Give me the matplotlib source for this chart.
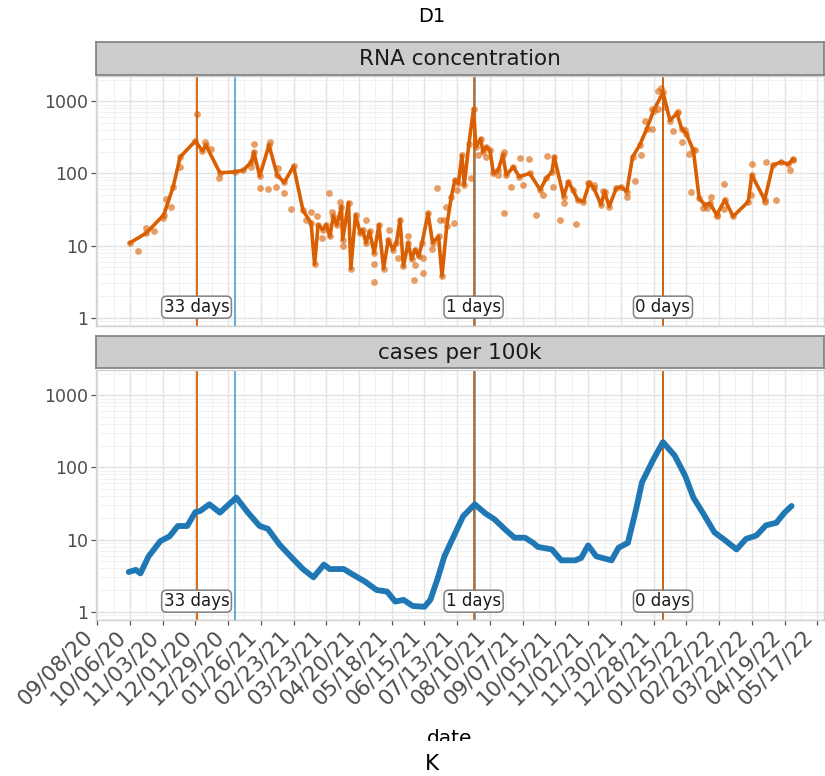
import numpy as np
import pandas as pd
import matplotlib
matplotlib.use("Agg")
import matplotlib.pyplot as plt
import matplotlib.dates as mdates
from matplotlib.ticker import FixedLocator, LogLocator, NullFormatter

# RNA concentration, connected line
rna_dates = ["2020-10-06", "2020-10-20", "2020-11-04", "2020-11-12", "2020-11-18", "2020-12-01",
             "2020-12-07", "2020-12-10", "2020-12-22", "2021-01-04", "2021-01-11", "2021-01-18",
             "2021-01-20", "2021-01-25", "2021-02-02", "2021-02-09", "2021-02-15", "2021-02-23",
             "2021-03-03", "2021-03-10", "2021-03-13", "2021-03-16", "2021-03-20", "2021-03-23",
             "2021-03-26", "2021-03-29", "2021-04-01", "2021-04-05", "2021-04-06", "2021-04-11",
             "2021-04-13", "2021-04-17", "2021-04-21", "2021-04-23", "2021-04-26", "2021-04-29",
             "2021-05-03", "2021-05-07", "2021-05-11", "2021-05-15", "2021-05-19", "2021-05-22",
             "2021-05-25", "2021-05-28", "2021-06-01", "2021-06-04", "2021-06-07", "2021-06-10",
             "2021-06-13", "2021-06-18", "2021-06-22", "2021-06-27", "2021-06-30", "2021-07-04",
             "2021-07-08", "2021-07-11", "2021-07-14", "2021-07-17", "2021-07-19", "2021-07-23",
             "2021-07-27", "2021-07-29", "2021-08-02", "2021-08-04", "2021-08-07", "2021-08-10",
             "2021-08-13", "2021-08-17", "2021-08-21", "2021-08-24", "2021-08-30", "2021-09-04",
             "2021-09-13", "2021-09-22", "2021-09-27", "2021-10-02", "2021-10-04", "2021-10-12",
             "2021-10-16", "2021-10-20", "2021-10-24", "2021-10-29", "2021-11-03", "2021-11-07",
             "2021-11-13", "2021-11-16", "2021-11-20", "2021-11-26", "2021-11-30", "2021-12-05",
             "2021-12-10", "2021-12-16", "2021-12-22", "2021-12-28", "2022-01-05", "2022-01-11",
             "2022-01-17", "2022-01-21", "2022-01-25", "2022-01-31", "2022-02-05", "2022-02-10",
             "2022-02-14", "2022-02-20", "2022-02-27", "2022-03-06", "2022-03-19", "2022-03-22",
             "2022-04-02", "2022-04-09", "2022-04-16", "2022-04-22", "2022-04-26"]
rna_values = [10.9, 14.9, 26.7, 65, 169, 281,
              205, 245, 102, 105, 111, 144,
              198, 92, 245, 95, 75, 126,
              31, 20.4, 5.5, 19.4, 16.6, 19.4,
              13.4, 25.3, 19.4, 34.7, 12.1, 39.4,
              4.8, 26.7, 14.9, 16.6, 10.9, 15.7,
              7.9, 19.4, 4.8, 12.1, 8.8, 10.9,
              22.8, 5.2, 10.9, 6.5, 8.8, 7.1,
              10.9, 28, 10.9, 13.4, 3.8, 18.4,
              47.7, 81, 73, 178, 69, 258,
              781, 232, 302, 198, 232, 209,
              100, 111, 178, 95, 123, 90,
              100, 59, 85, 105, 169, 47.7,
              77, 59, 43, 40.7, 73, 62,
              36.6, 56, 34.7, 62, 65, 56,
              169, 245, 410, 743, 1325, 541,
              682, 415, 354, 209, 45, 36.6,
              38.6, 26.7, 43, 25.3, 40.7, 95,
              43, 130, 144, 134, 155]

# RNA concentration, single samples away from the line
rna_pt_dates = ["2020-10-13", "2020-10-20", "2020-10-27", "2020-11-03", "2020-11-06", "2020-11-10",
                "2020-11-18", "2020-12-02", "2020-12-09", "2020-12-14", "2020-12-21", "2021-01-18",
                "2021-01-20", "2021-01-25", "2021-02-01", "2021-02-03", "2021-02-08", "2021-02-10",
                "2021-02-15", "2021-02-21", "2021-03-06", "2021-03-10", "2021-03-15", "2021-03-19",
                "2021-03-25", "2021-03-28", "2021-04-04", "2021-04-06", "2021-04-26", "2021-05-03",
                "2021-05-03", "2021-05-16", "2021-05-23", "2021-06-01", "2021-06-06", "2021-06-07",
                "2021-06-14", "2021-06-14", "2021-06-21", "2021-06-26", "2021-06-28", "2021-07-02",
                "2021-07-03", "2021-07-10", "2021-07-13", "2021-07-25", "2021-07-31", "2021-08-07",
                "2021-08-17", "2021-08-22", "2021-08-22", "2021-08-28", "2021-09-05", "2021-09-07",
                "2021-09-12", "2021-09-18", "2021-09-24", "2021-09-28", "2021-10-03", "2021-10-09",
                "2021-10-12", "2021-10-23", "2021-11-02", "2021-11-07", "2021-11-15", "2021-12-05",
                "2021-12-12", "2021-12-17", "2021-12-21", "2021-12-27", "2021-12-27", "2022-01-01",
                "2022-01-03", "2022-01-01", "2022-01-07", "2022-01-14", "2022-01-18", "2022-01-21",
                "2022-01-24", "2022-01-27", "2022-02-01", "2022-01-29", "2022-02-08", "2022-02-12",
                "2022-02-15", "2022-02-20", "2022-02-26", "2022-02-26", "2022-03-22", "2022-03-21",
                "2022-04-02", "2022-04-03", "2022-04-12", "2022-04-24", "2022-04-26"]
rna_pt_values = [8.3, 17.5, 16.1, 24, 44, 34.7,
                 121, 667, 270, 218, 85, 123,
                 258, 63, 61, 272, 65, 117,
                 53, 32, 22.8, 29.6, 25.3, 12.7,
                 54, 29.6, 40.7, 10, 22.8, 5.6,
                 3.1, 16.6, 6.8, 13.7, 3.3, 5.3,
                 4.2, 6.8, 9.0, 62, 22.8, 22.8,
                 34.7, 20.4, 59, 85, 178, 169,
                 95, 28, 198, 65, 164, 69,
                 160, 26.7, 50, 175, 65, 22.3,
                 38.6, 19.8, 74, 69, 57.6, 46.7,
                 79, 178, 541, 415, 781, 1400,
                 1550, 781, 824, 382, 703, 272,
                 394, 188, 209, 56, 33, 33,
                 47.7, 25.3, 71, 31.9, 133, 50,
                 40.7, 144, 43, 113, 158]

# cases per 100k
case_dates = ["2020-10-05", "2020-10-11", "2020-10-15", "2020-10-22", "2020-11-01", "2020-11-09",
              "2020-11-16", "2020-11-24", "2020-12-01", "2020-12-05", "2020-12-13", "2020-12-22",
              "2021-01-05", "2021-01-15", "2021-01-25", "2021-02-01", "2021-02-11", "2021-02-23",
              "2021-03-03", "2021-03-12", "2021-03-21", "2021-03-26", "2021-04-07", "2021-04-15",
              "2021-04-25", "2021-05-05", "2021-05-14", "2021-05-21", "2021-05-28", "2021-06-05",
              "2021-06-15", "2021-06-20", "2021-06-26", "2021-07-02", "2021-07-10", "2021-07-18",
              "2021-07-28", "2021-08-06", "2021-08-14", "2021-08-23", "2021-08-31", "2021-09-09",
              "2021-09-16", "2021-09-20", "2021-10-02", "2021-10-10", "2021-10-22", "2021-10-27",
              "2021-11-02", "2021-11-09", "2021-11-22", "2021-11-28", "2021-12-06", "2021-12-13",
              "2021-12-18", "2021-12-28", "2022-01-05", "2022-01-15", "2022-01-24", "2022-01-31",
              "2022-02-08", "2022-02-18", "2022-02-27", "2022-03-09", "2022-03-17", "2022-03-26",
              "2022-04-03", "2022-04-12", "2022-04-19", "2022-04-25"]
case_values = [3.55, 3.8, 3.4, 5.85, 9.5, 11.1,
               15.4, 15.4, 24, 24.8, 30.8, 23.6,
               38.2, 23.6, 15.4, 14.1, 8.5, 5.3,
               3.9, 3.0, 4.5, 3.9, 3.9, 3.25,
               2.62, 2.0, 1.9, 1.38, 1.46, 1.2,
               1.17, 1.46, 2.8, 5.85, 11.1, 21,
               30.8, 23.1, 19, 13.8, 10.6, 10.6,
               9.0, 7.9, 7.3, 5.15, 5.15, 5.56,
               8.3, 5.85, 5.15, 7.7, 9.0, 26.2,
               61.8, 131, 224, 146, 76.5, 38.2,
               23.6, 12.6, 9.8, 7.3, 10.2, 11.4,
               15.7, 17.1, 23.6, 29.2]

# peak markers
rna_peaks = ["2020-12-02", "2021-07-27", "2022-01-05"]
case_peaks = ["2021-01-04", "2021-07-28", "2022-01-05"]
lag_labels = ["33 days", "1 days", "0 days"]

ORANGE = "#d95f02"
BLUE = "#1f77b4"
W, H = 825, 776

def d(x):
    return mdates.date2num(pd.to_datetime(x))

fig = plt.figure(figsize=(W / 100, H / 100), dpi=100)

xmin = d("2020-09-07")
xmax = xmin + 728 / 1.169
majors = d(pd.date_range("2020-09-08", "2022-05-17", freq="28D"))
minors = d(pd.date_range("2020-09-22", "2022-05-31", freq="28D"))


def panel(top_px, strip_top, strip_h, title, show_x):
    ax = fig.add_axes([96 / W, 1 - (top_px + 250) / H, 728 / W, 250 / H])
    ax.set_yscale("log")
    ax.set_ylim(10 ** -0.115, 10 ** 3.35)
    ax.set_xlim(xmin, xmax)
    ax.xaxis.set_major_locator(FixedLocator(majors))
    ax.xaxis.set_minor_locator(FixedLocator(minors))
    ax.yaxis.set_major_locator(FixedLocator([1, 10, 100, 1000]))
    ax.yaxis.set_minor_locator(LogLocator(base=10, subs=np.arange(2, 10)))
    ax.yaxis.set_minor_formatter(NullFormatter())
    ax.set_yticklabels(["1", "10", "100", "1000"])
    ax.grid(which="major", color="#e2e2e2", lw=1.0, zorder=0)
    ax.grid(which="minor", color="#efefef", lw=0.6, zorder=0)
    ax.set_axisbelow(True)
    for s in ax.spines.values():
        s.set_color("#d0d0d0")
        s.set_linewidth(1.0)
    ax.tick_params(axis="y", which="major", length=3.5, width=0.9, color="#555555",
                   labelsize=12.5, labelcolor="#4d4d4d", pad=2)
    ax.tick_params(which="minor", length=0)
    if show_x:
        ax.tick_params(axis="x", which="major", length=3.5, width=0.9, color="#555555",
                       labelsize=15.5, labelcolor="#4d4d4d", pad=1)
        ax.xaxis.set_major_formatter(mdates.DateFormatter("%m/%d/%y"))
        for lab in ax.get_xticklabels():
            lab.set_rotation(45)
            lab.set_ha("right")
            lab.set_va("top")
    else:
        ax.tick_params(axis="x", which="major", length=0, labelbottom=False)

    st = fig.add_axes([96 / W, 1 - (strip_top + strip_h) / H, 728 / W, strip_h / H])
    st.set_facecolor("#cccccc")
    st.set_xticks([])
    st.set_yticks([])
    for s in st.spines.values():
        s.set_color("#7f7f7f")
        s.set_linewidth(1.2)
    st.text(0.5, 0.48, title, ha="center", va="center", fontsize=15.5, color="#1a1a1a",
            transform=st.transAxes)

    for cp in case_peaks:
        ax.axvline(d(cp), color="#3d95d6", lw=1.1, zorder=1)
    for rp, lab in zip(rna_peaks, lag_labels):
        ax.axvline(d(rp), color=ORANGE, lw=1.3, zorder=1.5)
        ax.text(d(rp), 1.4, lab, ha="center", va="center", fontsize=12, color="#1a1a1a", zorder=5,
                bbox=dict(boxstyle="round,pad=0.12,rounding_size=0.3", fc="white", ec="#7f7f7f", lw=1.1))
    return ax


ax1 = panel(76, 42, 33, "RNA concentration", False)
ax2 = panel(370, 336, 32, "cases per 100k", True)

ax1.plot(d(rna_dates), rna_values, color=ORANGE, lw=2.6, zorder=3, solid_joinstyle="round")
ax1.scatter(d(rna_dates), rna_values, s=24, color=ORANGE, alpha=0.6, lw=0, zorder=3)
ax1.scatter(d(rna_pt_dates), rna_pt_values, s=24, color=ORANGE, alpha=0.6, lw=0, zorder=3)

ax2.plot(d(case_dates), case_values, color=BLUE, lw=4.2, zorder=3, solid_joinstyle="round",
         solid_capstyle="round")

fig.text(432 / W, 1 - 17 / H, "D1", ha="center", va="center", fontsize=14, color="black")
fig.text(450 / W, 1 - 744 / H, "date", ha="center", va="baseline", fontsize=14.5, color="black")
fig.patches.append(plt.Rectangle((0, 0), 1, 1 - 741 / H, transform=fig.transFigure,
                                 fc="white", ec="none", zorder=10))
fig.text(432 / W, 1 - 764 / H, "K", ha="center", va="center", fontsize=15.5, color="black",
         zorder=11)

fig.savefig("out.png", dpi=100)
